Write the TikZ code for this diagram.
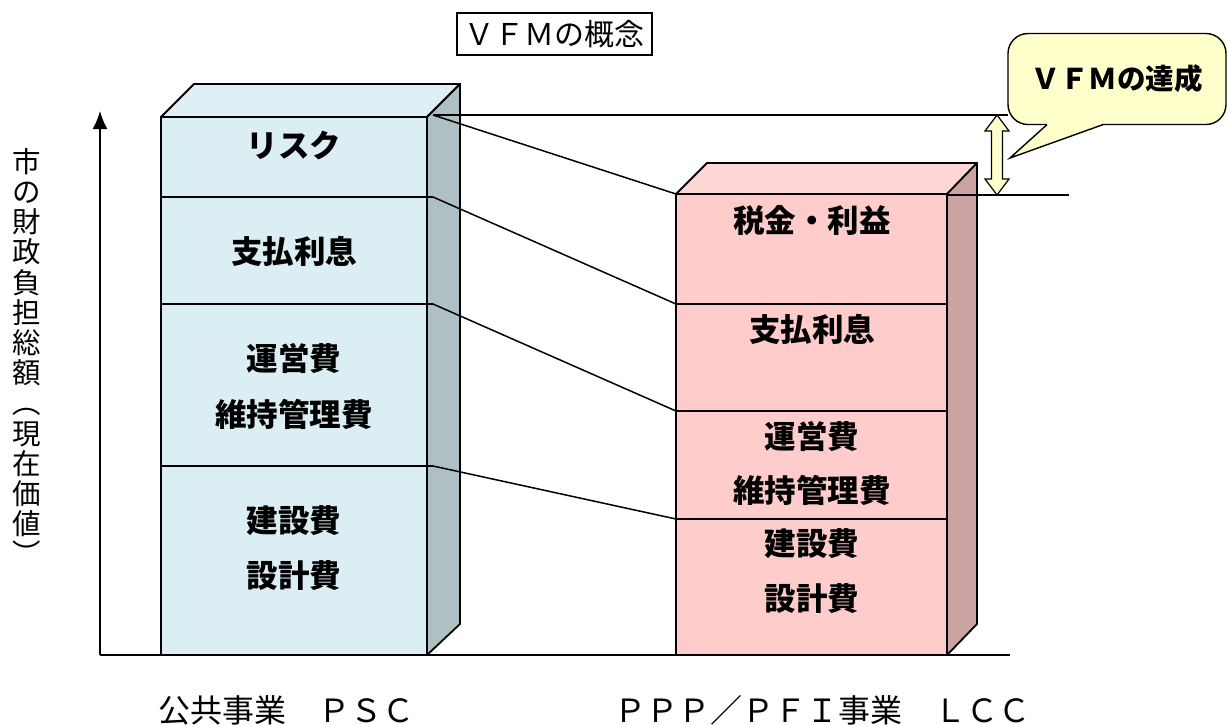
\documentclass[tikz,border=0pt]{standalone}
\usepackage{fontspec}
\newfontfamily\jp{Noto Sans CJK JP}
\usetikzlibrary{arrows.meta}
\definecolor{lbfront}{RGB}{219,238,243}
\definecolor{lbtop}{RGB}{222,240,245}
\definecolor{lbside}{RGB}{174,192,196}
\definecolor{rpfront}{RGB}{255,204,204}
\definecolor{rptop}{RGB}{255,214,214}
\definecolor{rpside}{RGB}{204,163,163}
\definecolor{callfill}{RGB}{255,255,204}
\tikzset{
  boxline/.style={draw=black, line width=1.8pt, line join=round},
  conn/.style={draw=black, line width=1.5pt},
  lbl/.style={font=\jp\bfseries\fontsize{31.5}{31.5}\selectfont, inner sep=0pt, anchor=center},
  plain/.style={font=\jp\fontsize{31.5}{31.5}\selectfont, inner sep=0pt},
}
\begin{document}
\begin{tikzpicture}[x=1pt,y=-1pt]
\useasboundingbox (0,0) rectangle (1227,724);

% title
\node[draw, line width=1.5pt, minimum width=195pt, minimum height=42pt, inner sep=0pt,
      font=\jp\fontsize{30}{30}\selectfont] (title) at (554.5,34) {ＶＦＭの概念};

% axes
\coordinate (O) at (100,655);
\coordinate (Ytop) at (100,111);
\coordinate (Xend) at (1010,655);
\draw[line width=1.6pt, -{Latex[length=18pt,width=15pt]}] (O) -- (Ytop);
\draw[line width=1.6pt] (O) -- (Xend);

% vertical axis label
\node[font=\jp\fontsize{28.5}{30.2}\selectfont, align=center, inner sep=0pt, anchor=north] (ylabel) at (27,148)
  {市\\の\\財\\政\\負\\担\\総\\額\\︵\\現\\在\\価\\値\\︶};

% ---------- left box (PSC) ----------
\path[boxline, fill=lbtop] (161,117) -- (194,84) -- (460,84) -- (427,117) -- cycle;
\path[boxline, fill=lbside] (427,117) -- (460,84) -- (460,624) -- (427,655) -- cycle;
\path[boxline, fill=lbfront] (161,117) rectangle (427,655);
\draw[boxline] (161,197) -- (433,197);
\draw[boxline] (161,304) -- (433,304);
\draw[boxline] (161,466) -- (433,466);

\coordinate (la) at (433,115);
\coordinate (lb) at (433,197);
\coordinate (lc) at (433,304);
\coordinate (ld) at (433,466);

\node[lbl] (l1) at (294,145) {リスク};
\node[lbl] (l2) at (294,251) {支払利息};
\node[lbl] (l3) at (294,359) {運営費};
\node[lbl] (l4) at (294,414) {維持管理費};
\node[lbl] (l5) at (294,521) {建設費};
\node[lbl] (l6) at (294,576) {設計費};

% ---------- right box (LCC) ----------
\path[boxline, fill=rptop] (676,194) -- (707,163) -- (977,163) -- (947,194) -- cycle;
\path[boxline, fill=rpside] (947,194) -- (977,163) -- (977,624) -- (947,655) -- cycle;
\path[boxline, fill=rpfront] (676,194) rectangle (947,655);
\draw[boxline] (676,304) -- (947,304);
\draw[boxline] (676,411) -- (947,411);
\draw[boxline] (676,519) -- (947,519);

\coordinate (ra) at (676,194);
\coordinate (rb) at (676,304);
\coordinate (rc) at (676,411);
\coordinate (rd) at (676,519);

\node[lbl] (r1) at (812,220) {税金・利益};
\node[lbl] (r2) at (812,329) {支払利息};
\node[lbl] (r3) at (812,437) {運営費};
\node[lbl] (r4) at (812,490) {維持管理費};
\node[lbl] (r5) at (812,544) {建設費};
\node[lbl] (r6) at (812,599) {設計費};

% connectors
\draw[conn] (la) -- (ra);
\draw[conn] (lb) -- (rb);
\draw[conn] (lc) -- (rc);
\draw[conn] (ld) -- (rd);

% reference lines
\coordinate (topend) at (1008,115);
\coordinate (rtop) at (947,195);
\coordinate (botend) at (1069,195);
\draw[line width=1.3pt] (la) -- (topend);
\draw[line width=1.3pt] (rtop) -- (botend);

% double arrow
\draw[line width=1.2pt, fill=callfill, line join=miter]
  (997,115) -- (1009,131) -- (1002.5,131) -- (1002.5,179) -- (1009,179) -- (997,195)
  -- (985,179) -- (991.5,179) -- (991.5,131) -- (985,131) -- cycle;

% callout
\node[draw, line width=1.4pt, fill=callfill, rounded corners=20pt, minimum width=218pt,
      minimum height=91pt, inner sep=0pt, font=\jp\bfseries\fontsize{28.5}{28.5}\selectfont]
      (vfm) at (1117,79) {ＶＦＭの達成};
\fill[callfill] (1049,121) -- (1101,121) -- (1103,124.6) -- (1010,158) -- (1047,124.6) -- cycle;
\draw[line width=1.4pt, line join=miter] (1047,124.6) -- (1010,158) -- (1103,124.6);

% bottom labels
\node[font=\jp\fontsize{32}{32}\selectfont, inner sep=0pt, anchor=base west] (psc) at (158,722) {公共事業　ＰＳＣ};
\node[font=\jp\fontsize{32}{32}\selectfont, inner sep=0pt, anchor=base west] (lcc) at (614,722) {ＰＰＰ／ＰＦＩ事業　ＬＣＣ};
\end{tikzpicture}
\end{document}
